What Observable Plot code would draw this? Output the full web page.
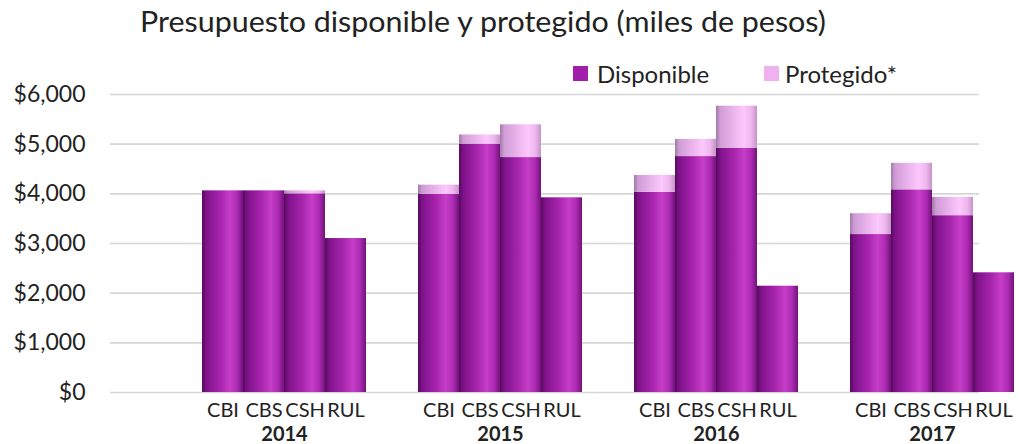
<!DOCTYPE html>
<html>
<head>
<meta charset="utf-8">
<script src="https://cdn.jsdelivr.net/npm/d3@7"></script>
<script src="https://cdn.jsdelivr.net/npm/@observablehq/plot@0.6"></script>
<style>
  html, body { margin: 0; padding: 0; background: #fff; }
  #wrap { position: relative; width: 1019px; height: 444px; overflow: hidden; font-family: Lato, "Open Sans", sans-serif; color: #222; }
  #wrap svg { position: absolute; left: 0; top: 0; }
  .title { position: absolute; left: 140px; top: 7px; font-size: 28px; line-height: 28px; white-space: nowrap; color: #222; transform-origin: 0 0; }
  .leg { position: absolute; top: 62px; font-size: 24px; line-height: 24px; white-space: nowrap; color: #222; }
  .sw { position: absolute; top: 66px; width: 15px; height: 15px; }
</style>
</head>
<body>
<div id="wrap"></div>
<script>
const years = ["2014", "2015", "2016", "2017"];
const categories = ["CBI", "CBS", "CSH", "RUL"];
const seriesNames = ["Disponible", "Protegido*"];
const disponible = {
  "2014": [4060, 4060, 4000, 3100],
  "2015": [3990, 5000, 4730, 3920],
  "2016": [4030, 4750, 4920, 2140],
  "2017": [3180, 4080, 3560, 2410]
};
const protegido = {
  "2014": [0, 0, 60, 0],
  "2015": [185, 185, 660, 0],
  "2016": [340, 345, 845, 0],
  "2017": [420, 535, 370, 0]
};
const yTicks = [0, 1000, 2000, 3000, 4000, 5000, 6000];
const titleText = "Presupuesto disponible y protegido (miles de pesos)";

const rows = [];
for (const y of years) categories.forEach((c, i) => rows.push({year: y, cat: c, series: seriesNames[0], value: disponible[y][i]}));
for (const y of years) categories.forEach((c, i) => rows.push({year: y, cat: c, series: seriesNames[1], value: protegido[y][i]}));

const W = 1019, H = 444, mTop = 94, mBottom = 52;
const font = "Lato, 'Open Sans', sans-serif";

const back = Plot.plot({
  width: W, height: H,
  marginTop: mTop, marginBottom: mBottom, marginLeft: 110, marginRight: 40,
  style: {fontFamily: font, color: "#222", background: "white"},
  y: {domain: [0, 6000], axis: null},
  marks: [
    Plot.gridY(yTicks, {stroke: "#d6d6d6", strokeOpacity: 1, strokeWidth: 1.6}),
    Plot.axisY(yTicks, {tickSize: 0, tickPadding: 25, fontSize: 23, tickFormat: d => "$" + d3.format(",")(d)})
  ]
});

const main = Plot.plot({
  width: W, height: H,
  marginTop: mTop, marginBottom: mBottom, marginLeft: 200, marginRight: 4,
  style: {fontFamily: font, color: "#222", background: "transparent"},
  fx: {domain: years, paddingInner: 0.233, paddingOuter: 0, label: null},
  x: {domain: categories, padding: 0, label: null},
  y: {domain: [0, 6000], axis: null},
  color: {domain: seriesNames, range: ["url(#gPurple)", "url(#gPink)"]},
  marks: [
    Plot.barY(rows, {fx: "year", x: "cat", y: "value", fill: "series", inset: 0}),
    Plot.axisX({anchor: "bottom", tickSize: 0, tickPadding: 10, fontSize: 20, label: null}),
    Plot.axisFx({anchor: "bottom", tickSize: 0, tickPadding: 34, fontSize: 20, fontWeight: "bold", label: null})
  ]
});

const defs = d3.select(main).insert("defs", ":first-child");
function grad(id, stops) {
  const g = defs.append("linearGradient").attr("id", id).attr("x1", 0).attr("x2", 1).attr("y1", 0).attr("y2", 0);
  for (const [o, c] of stops) g.append("stop").attr("offset", o).attr("stop-color", c);
}
grad("gPurple", [[0, "#560a5c"], [0.1, "#7e128a"], [0.45, "#a825ad"], [0.68, "#c63ec8"], [0.86, "#ac2ab2"], [1, "#721278"]]);
grad("gPink", [[0, "#a07aa6"], [0.1, "#d09cd6"], [0.45, "#ecb6ee"], [0.68, "#fcc9fc"], [0.86, "#eeb6ee"], [1, "#c494c8"]]);

const wrap = document.getElementById("wrap");
wrap.appendChild(back);
wrap.appendChild(main);

const t = document.createElement("div");
t.className = "title"; t.textContent = titleText; wrap.appendChild(t);
const tw = t.getBoundingClientRect().width;
if (tw > 0) t.style.transform = "scaleX(" + (686 / tw) + ")";
const legendItems = [[seriesNames[0], "#a21fab", 573, 597], [seriesNames[1], "#efb2ef", 764, 785]];
for (const [name, col, sx, tx] of legendItems) {
  const s = document.createElement("div"); s.className = "sw"; s.style.left = sx + "px"; s.style.background = col; wrap.appendChild(s);
  const l = document.createElement("div"); l.className = "leg"; l.style.left = tx + "px"; l.textContent = name; wrap.appendChild(l);
}
</script>
</body>
</html>
